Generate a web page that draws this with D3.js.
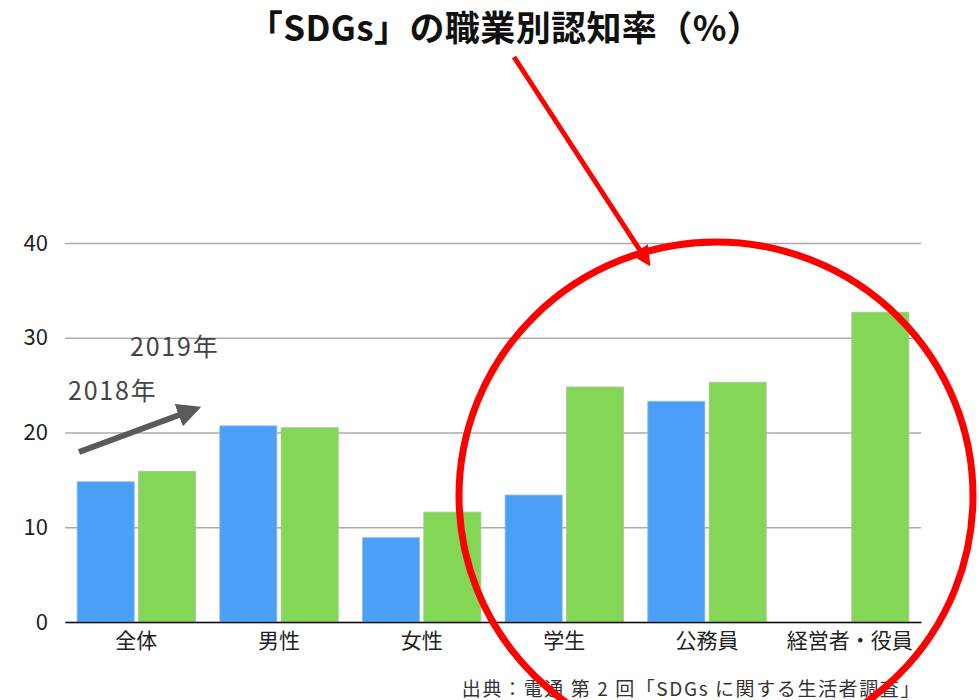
<!DOCTYPE html>
<html>
<head>
<meta charset="utf-8">
<script src="https://cdn.jsdelivr.net/npm/d3@7"></script>
<style>
  body { margin: 0; background: #fff; }
  text { font-family: "Noto Sans CJK JP", "Noto Sans", sans-serif; }
</style>
</head>
<body>
<script>
const categories = ['全体', '男性', '女性', '学生', '公務員', '経営者・役員']
const years = ['2018年', '2019年']
const values2018 = [14.8, 20.7, 8.9, 13.4, 23.3, null]
const values2019 = [15.9, 20.5, 11.6, 24.8, 25.3, 32.7]
const yTicks = [0, 10, 20, 30, 40]
const colors = ['#4aa0f6', '#83d656']

const width = 979
const height = 700

const svg = d3.select('body').append('svg')
  .attr('width', width)
  .attr('height', height)

const x0 = d3.scaleBand()
  .domain(categories)
  .range([65, 921])
  .paddingInner(0.17)
  .paddingOuter(0.085)

const x1 = d3.scaleBand()
  .domain(years)
  .range([0, x0.bandwidth()])
  .paddingInner(0.07)

const y = d3.scaleLinear()
  .domain([0, 40])
  .range([622, 243])

// gridlines + y labels
svg.append('g')
  .attr('transform', 'translate(65,0)')
  .call(d3.axisLeft(y).tickValues(yTicks).tickSize(-856).tickPadding(17))
  .call(g => g.select('.domain').remove())
  .call(g => g.selectAll('.tick line').attr('stroke', '#ababab').attr('stroke-width', 1.5))
  .call(g => g.selectAll('.tick text').attr('fill', '#222').attr('font-size', 22)
    .attr('font-family', '"Noto Sans", sans-serif'))

// bars
const rows = categories.map((c, i) => ({cat: c, vals: [values2018[i], values2019[i]]}))

svg.append('g').selectAll('g')
  .data(rows)
  .enter().append('g')
  .attr('transform', d => `translate(${x0(d.cat)},0)`)
  .selectAll('rect')
  .data(d => d.vals.map((v, j) => ({year: years[j], v: v, j: j})).filter(d => d.v != null))
  .enter().append('rect')
  .attr('x', d => x1(d.year))
  .attr('y', d => y(d.v))
  .attr('width', x1.bandwidth())
  .attr('height', d => y(0) - y(d.v))
  .attr('fill', d => colors[d.j])
  .attr('stroke', d => d.j === 0 ? '#8fbde8' : '#a7c49a')
  .attr('stroke-width', 0.8)

// x axis
svg.append('g')
  .attr('transform', `translate(0,${y(0)})`)
  .call(d3.axisBottom(x0).tickSize(0).tickPadding(11))
  .call(g => g.select('.domain').attr('stroke', '#111').attr('stroke-width', 1.5))
  .call(g => g.selectAll('.tick text').attr('fill', '#222').attr('font-size', 21))

// title
svg.append('text')
  .attr('x', 505)
  .attr('y', 41)
  .attr('text-anchor', 'middle')
  .attr('font-size', 35)
  .attr('letter-spacing', 0.4)
  .attr('font-weight', 'bold')
  .attr('fill', '#111')
  .text('「SDGs」の職業別認知率（%）')

// source
svg.append('text')
  .attr('x', 921)
  .attr('y', 696)
  .attr('text-anchor', 'end')
  .attr('font-size', 19)
  .attr('letter-spacing', 1.6)
  .attr('fill', '#333')
  .text('出典：電通 第 2 回「SDGs に関する生活者調査」')

// year annotations
svg.append('text').attr('x', 130).attr('y', 356)
  .attr('font-size', 25).attr('letter-spacing', 1.8).attr('fill', '#444').text(years[1])
svg.append('text').attr('x', 68).attr('y', 400)
  .attr('font-size', 25).attr('letter-spacing', 1.8).attr('fill', '#444').text(years[0])

const defs = svg.append('defs')
defs.append('marker')
  .attr('id', 'grayHead')
  .attr('viewBox', '0 0 10 10')
  .attr('refX', 5).attr('refY', 5)
  .attr('markerWidth', 4).attr('markerHeight', 4)
  .attr('markerUnits', 'strokeWidth')
  .attr('orient', 'auto')
  .append('path').attr('d', 'M0,0 L10,5 L0,10 z').attr('fill', '#5a5a5a')
defs.append('marker')
  .attr('id', 'redHead')
  .attr('viewBox', '0 0 10 10')
  .attr('refX', 5).attr('refY', 5)
  .attr('markerWidth', 4).attr('markerHeight', 4)
  .attr('markerUnits', 'strokeWidth')
  .attr('orient', 'auto')
  .append('path').attr('d', 'M0,0 L10,5 L0,10 z').attr('fill', '#ff0000')

svg.append('line')
  .attr('x1', 79).attr('y1', 452).attr('x2', 190).attr('y2', 411)
  .attr('stroke', '#5a5a5a').attr('stroke-width', 6)
  .attr('marker-end', 'url(#grayHead)')

// red highlight
svg.append('ellipse')
  .attr('cx', 716).attr('cy', 496)
  .attr('rx', 257).attr('ry', 254)
  .attr('fill', 'none')
  .attr('stroke', '#ff0000')
  .attr('stroke-width', 7)

svg.append('line')
  .attr('x1', 514).attr('y1', 57).attr('x2', 645).attr('y2', 258)
  .attr('stroke', '#ff0000').attr('stroke-width', 5)
  .attr('marker-end', 'url(#redHead)')
</script>
</body>
</html>
